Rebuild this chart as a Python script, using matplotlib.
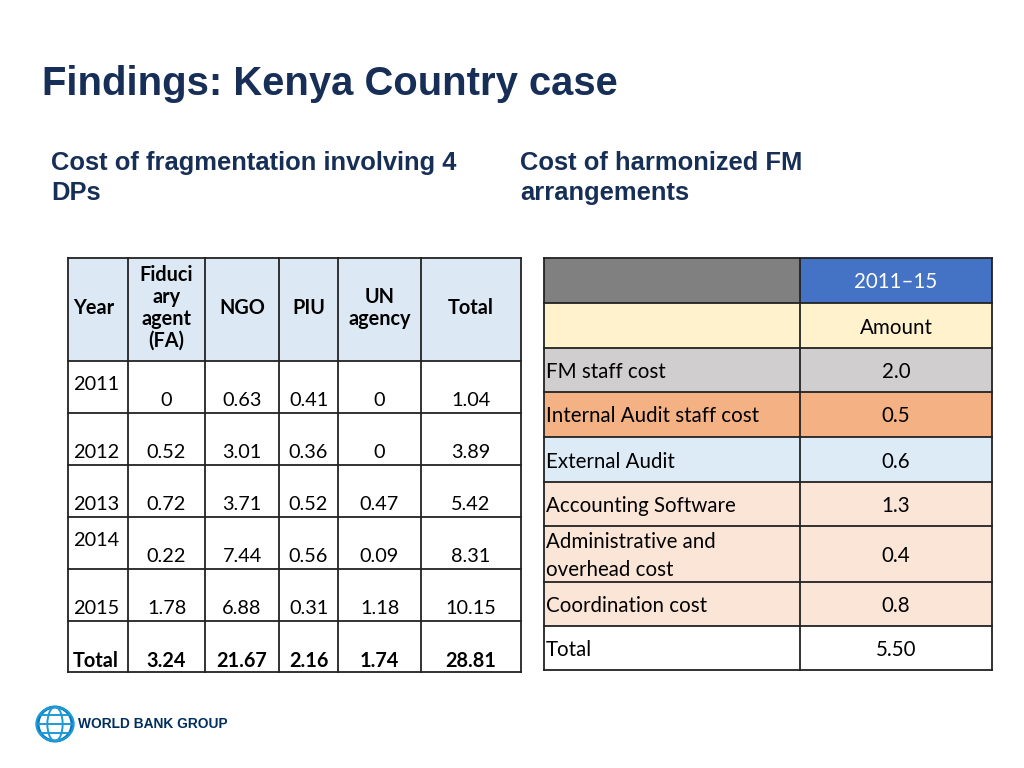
import numpy as np
import matplotlib.pyplot as plt
from matplotlib.patches import Rectangle, Ellipse, Circle

# ---- data ----
years = ['2011', '2012', '2013', '2014', '2015']
fa = [0, 0.52, 0.72, 0.22, 1.78]
ngo = [0.63, 3.01, 3.71, 7.44, 6.88]
piu = [0.41, 0.36, 0.52, 0.56, 0.31]
un = [0, 0, 0.47, 0.09, 1.18]
row_total = [1.04, 3.89, 5.42, 8.31, 10.15]
col_total = [3.24, 21.67, 2.16, 1.74, 28.81]
left_headers = ['Year', 'Fiduci\nary\nagent\n(FA)', 'NGO', 'PIU', 'UN\nagency', 'Total']

items = ['FM staff cost', 'Internal Audit staff cost', 'External Audit',
         'Accounting Software', 'Administrative and\noverhead cost', 'Coordination cost']
amounts = [2.0, 0.5, 0.6, 1.3, 0.4, 0.8]
total_amount = 5.50
period = '2011\u201315'

NAVY = '#172F57'
BODY = 'Lato'

fig = plt.figure(figsize=(10.24, 7.68), dpi=100)
ax = fig.add_axes([0, 0, 1, 1])
ax.set_xlim(0, 1024)
ax.set_ylim(768, 0)
ax.axis('off')

# titles
ax.text(42, 84, 'Findings: Kenya Country case', fontsize=28.8, fontweight='bold',
        color=NAVY, family='Liberation Sans', va='center', ha='left')
ax.text(51, 178, 'Cost of fragmentation involving 4\nDPs', fontsize=18.4, fontweight='bold',
        color=NAVY, family='Liberation Sans', va='center', ha='left', linespacing=1.3)
ax.text(520, 178, 'Cost of harmonized FM\narrangements', fontsize=18.4, fontweight='bold',
        color=NAVY, family='Liberation Sans', va='center', ha='left', linespacing=1.3)

def fmt(v):
    return '0' if v == 0 else f'{v:.2f}'

# ---- left table ----
xe = [68, 128, 205, 279, 338, 421, 521]
ye = [258, 361, 413, 465, 517, 569, 621, 672]
fs = 14.3
ax.add_patch(Rectangle((xe[0], ye[0]), xe[-1] - xe[0], ye[1] - ye[0],
                       facecolor='#DCE8F4', edgecolor='none'))
for i, h in enumerate(left_headers):
    if i == 0:
        ax.text(xe[0] + 5, 308, h, fontsize=fs, fontweight='bold', family=BODY,
                ha='left', va='center')
    else:
        ax.text((xe[i] + xe[i + 1]) / 2, 308, h, fontsize=fs, fontweight='bold', family=BODY,
                ha='center', va='center', linespacing=1.12)

cols = [fa, ngo, piu, un, row_total]
for r, yr in enumerate(years):
    top = ye[r + 1]
    ytxt = top + 24 if yr in ('2011', '2014') else top + 40
    ax.text(xe[0] + 5, ytxt, yr, fontsize=fs, family=BODY, ha='left', va='center')
    for c, col in enumerate(cols):
        ax.text((xe[c + 1] + xe[c + 2]) / 2, top + 40, fmt(col[r]), fontsize=fs,
                family=BODY, ha='center', va='center')
top = ye[6]
ax.text(xe[0] + 5, top + 40, 'Total', fontsize=fs, fontweight='bold', family=BODY,
        ha='left', va='center')
for c, v in enumerate(col_total):
    ax.text((xe[c + 1] + xe[c + 2]) / 2, top + 40, fmt(v), fontsize=fs, fontweight='bold',
            family=BODY, ha='center', va='center')

for x in xe:
    ax.plot([x, x], [ye[0], ye[-1]], color='#222222', lw=1.3)
for y in ye:
    ax.plot([xe[0], xe[-1]], [y, y], color='#222222', lw=1.3)

# ---- right table ----
rx = [544, 800, 992]
ry = [258, 303, 348, 392, 437, 482, 526, 582, 626, 670]
row_colors = ['#D0CECE', '#F4B183', '#DDEBF7', '#FBE5D6', '#FBE5D6', '#FBE5D6']
rfs = 14.8

ax.add_patch(Rectangle((rx[0], ry[0]), rx[1] - rx[0], ry[1] - ry[0], facecolor='#808080', edgecolor='none'))
ax.add_patch(Rectangle((rx[1], ry[0]), rx[2] - rx[1], ry[1] - ry[0], facecolor='#4472C4', edgecolor='none'))
ax.add_patch(Rectangle((rx[0], ry[1]), rx[2] - rx[0], ry[2] - ry[1], facecolor='#FFF2CC', edgecolor='none'))
ax.text((rx[1] + rx[2]) / 2, (ry[0] + ry[1]) / 2 + 2, period, fontsize=rfs, family=BODY,
        color='white', ha='center', va='center')
ax.text((rx[1] + rx[2]) / 2, (ry[1] + ry[2]) / 2 + 2, 'Amount', fontsize=rfs, family=BODY,
        ha='center', va='center')

for i, (name, v) in enumerate(zip(items, amounts)):
    y0, y1 = ry[i + 2], ry[i + 3]
    ax.add_patch(Rectangle((rx[0], y0), rx[2] - rx[0], y1 - y0,
                           facecolor=row_colors[i], edgecolor='none'))
    ym = (y0 + y1) / 2 + 2
    ax.text(rx[0] + 2, ym, name, fontsize=rfs, family=BODY, ha='left', va='center',
            linespacing=1.55)
    ax.text((rx[1] + rx[2]) / 2, ym, f'{v:.1f}', fontsize=rfs, family=BODY,
            ha='center', va='center')
ym = (ry[8] + ry[9]) / 2 + 2
ax.text(rx[0] + 2, ym, 'Total', fontsize=rfs, family=BODY, ha='left', va='center')
ax.text((rx[1] + rx[2]) / 2, ym, f'{total_amount:.2f}', fontsize=rfs, family=BODY,
        ha='center', va='center')

for x in rx:
    ax.plot([x, x], [ry[0], ry[-1]], color='#222222', lw=1.3)
for y in ry:
    ax.plot([rx[0], rx[-1]], [y, y], color='#222222', lw=1.3)

# ---- logo ----
gx, gy, gr = 55, 724, 17
ax.add_patch(Circle((gx, gy), gr, facecolor='none', edgecolor='#0A7BC2', lw=2.2))
for w in [0.45, 1.1]:
    ax.add_patch(Ellipse((gx, gy), 2 * gr * w, 2 * gr, facecolor='none', edgecolor='#1E9AD6', lw=1.4))
for dy in [-9, 0, 9]:
    hw = np.sqrt(gr ** 2 - dy ** 2)
    ax.plot([gx - hw, gx + hw], [gy + dy, gy + dy], color='#1E9AD6', lw=1.4)
ax.text(78, 724, 'WORLD BANK GROUP', fontsize=9.9, fontweight='bold', family='Liberation Sans',
        color='#002F5F', ha='left', va='center')

fig.savefig('out.png', dpi=100)
